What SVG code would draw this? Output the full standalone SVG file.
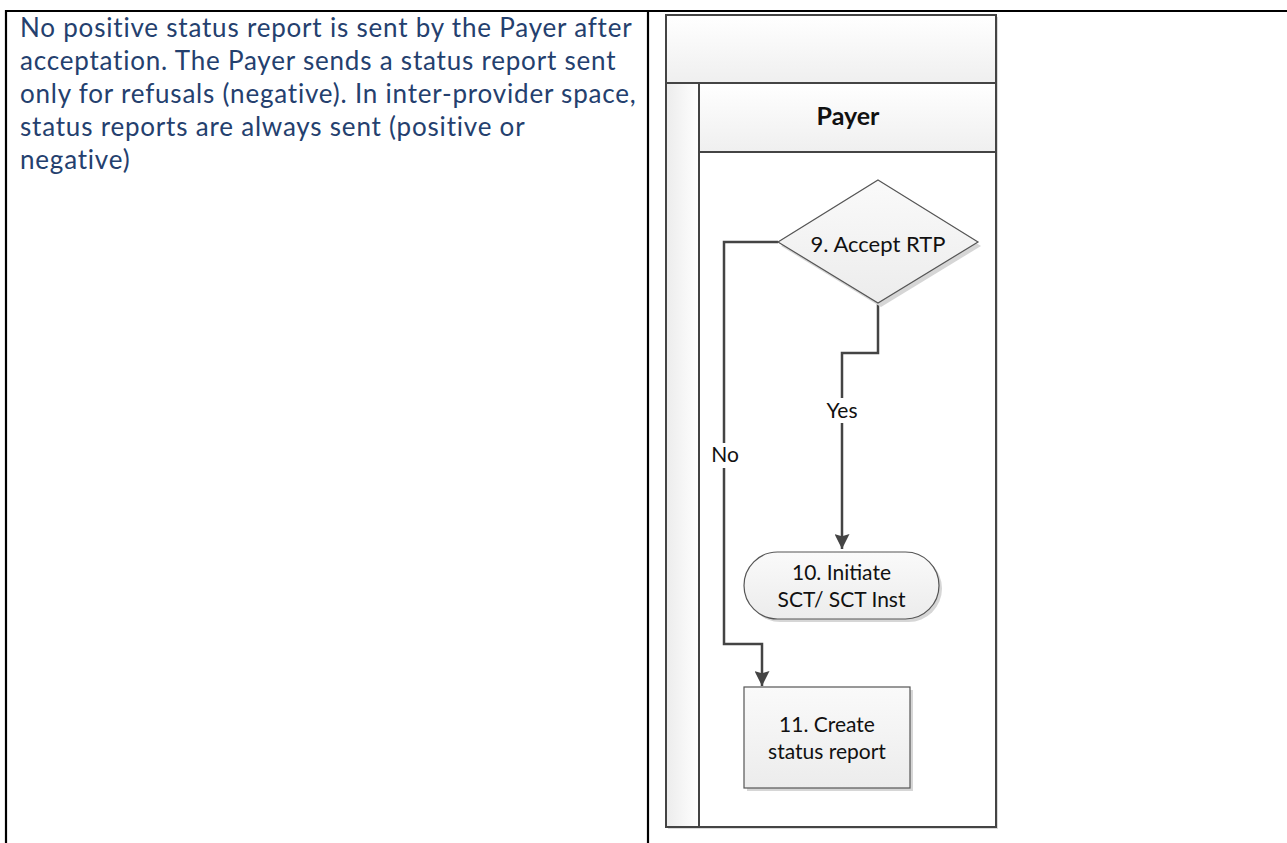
<svg xmlns="http://www.w3.org/2000/svg" width="1287" height="843" viewBox="0 0 1287 843">
<style>
.tbl{stroke:#000;stroke-width:2.2;fill:none}
.note{font-family:Lato,"Liberation Sans",sans-serif;font-size:26px;letter-spacing:0.8px;fill:#24406E}
.pool{stroke:#444;stroke-width:2;}
.node{stroke:#555;stroke-width:1.2;fill:url(#nodeFill)}
.shadow{fill:#d6d6d6}
.lbl{font-family:Lato,"Liberation Sans",sans-serif;font-size:21px;fill:#111;text-anchor:middle}
.big{font-size:22px}
.hdr{font-family:Lato,"Liberation Sans",sans-serif;font-size:25px;font-weight:bold;fill:#111;text-anchor:middle}
.conn{stroke:#444;stroke-width:2.5;fill:none}
.tag{fill:#fff}
</style>
<defs>
<linearGradient id="hdrFill" x1="0" y1="0" x2="0" y2="1"><stop offset="0" stop-color="#ffffff"/><stop offset="1" stop-color="#efefef"/></linearGradient>
<linearGradient id="stripFill" x1="0" y1="0" x2="1" y2="0"><stop offset="0" stop-color="#ececec"/><stop offset="1" stop-color="#ffffff"/></linearGradient>
<linearGradient id="nodeFill" x1="0" y1="0" x2="0" y2="1"><stop offset="0" stop-color="#fafafa"/><stop offset="1" stop-color="#ececec"/></linearGradient>
<marker id="arr" viewBox="0 0 10 10" refX="10" refY="5" markerWidth="6" markerHeight="6" markerUnits="strokeWidth" orient="auto"><path d="M0,0 L10,5 L0,10 L1.5,5 z" fill="#444"/></marker>
</defs>
<rect width="1287" height="843" fill="#fff"/>
<g id="table">
<line class="tbl" x1="5" y1="11" x2="1287" y2="11"/>
<line class="tbl" x1="6" y1="10" x2="6" y2="843"/>
<line class="tbl" x1="648" y1="10" x2="648" y2="843"/>
</g>
<g id="note">
<text class="note" x="20" y="37">No positive status report is sent by the Payer after</text>
<text class="note" x="20" y="70">acceptation. The Payer sends a status report sent</text>
<text class="note" x="20" y="103">only for refusals (negative). In inter-provider space,</text>
<text class="note" x="20" y="136">status reports are always sent (positive or</text>
<text class="note" x="20" y="169">negative)</text>
</g>
<g id="pool">
<rect x="668" y="17" width="330" height="812" fill="#d9d9d9"/>
<rect class="pool" x="666" y="15" width="330" height="812" fill="#fff"/>
<rect class="pool" x="666" y="15" width="330" height="68" fill="url(#hdrFill)"/>
<rect class="pool" x="666" y="83" width="33" height="744" fill="url(#stripFill)"/>
</g>
<g id="lane-payer">
<rect class="pool" x="699" y="83" width="297" height="69" fill="url(#hdrFill)"/>
<text class="hdr" x="848" y="125">Payer</text>
</g>
<g id="connectors">
<path class="conn" d="M878,303 V353 H842 V549" marker-end="url(#arr)"/>
<path class="conn" d="M778,242 H724 V644 H762 V686" marker-end="url(#arr)"/>
<rect class="tag" x="825" y="398" width="34" height="25"/>
<text class="lbl" x="842" y="418">Yes</text>
<rect class="tag" x="711" y="443" width="28" height="25"/>
<text class="lbl" x="725" y="462">No</text>
</g>
<g id="n9">
<polygon class="shadow" points="881,184 981,246 881,307 781,246"/>
<polygon class="node" points="878,180 978,242 878,303 778,242"/>
<text class="lbl big" x="878" y="252">9. Accept RTP</text>
</g>
<g id="n10">
<rect class="shadow" x="747" y="555" width="195" height="67" rx="33.5"/>
<rect class="node" x="744" y="552" width="195" height="67" rx="33.5"/>
<text class="lbl" x="841.5" y="580">10. Initiate</text>
<text class="lbl" x="841.5" y="607">SCT/ SCT Inst</text>
</g>
<g id="n11">
<rect class="shadow" x="747" y="690" width="166" height="101"/>
<rect class="node" x="744" y="687" width="166" height="101"/>
<text class="lbl" x="827" y="732">11. Create</text>
<text class="lbl" x="827" y="759">status report</text>
</g>
</svg>
